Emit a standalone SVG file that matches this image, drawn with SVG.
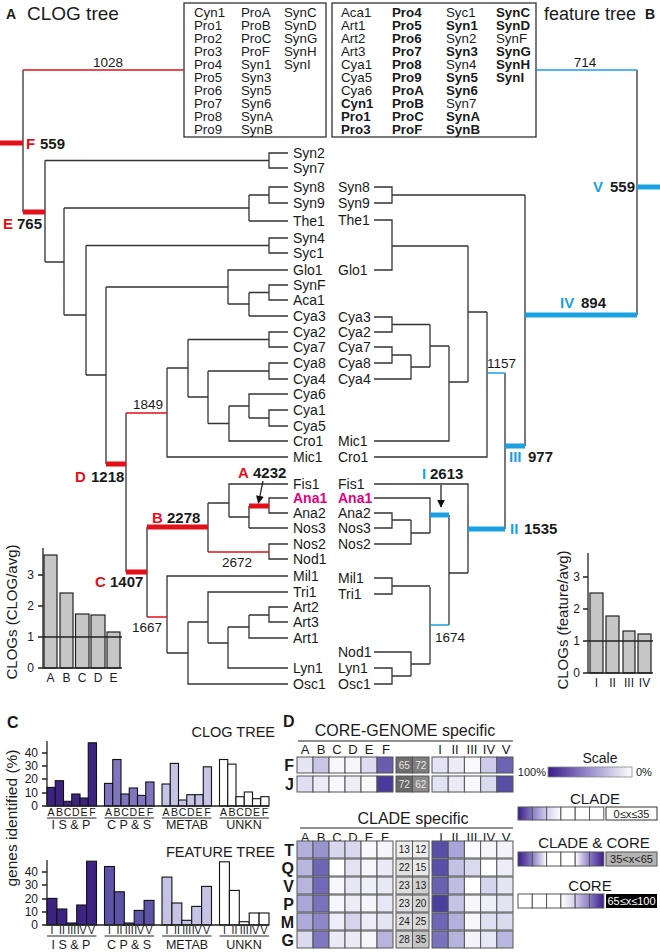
<svg xmlns="http://www.w3.org/2000/svg" width="660" height="952" viewBox="0 0 660 952">
<style>
text{font-family:"Liberation Sans",Arial,Helvetica,sans-serif;fill:#1a1a1a}
.lf{font-size:14px}
.bx{font-size:13.3px}
.b{font-weight:bold}
.red{fill:#e3101a}
.blu{fill:#1ba1e2}
.pk{fill:#e6007e;font-weight:bold}
.num{font-size:13.5px}
.bn{font-size:15px;font-weight:bold}
.tl{fill:none;stroke:#333;stroke-width:1.3}
.rt{fill:none;stroke:#e3101a;stroke-width:1.6}
.rT{fill:none;stroke:#e3101a;stroke-width:5}
.bt{fill:none;stroke:#1ba1e2;stroke-width:1.6}
.bT{fill:none;stroke:#1ba1e2;stroke-width:5}
.ax{fill:none;stroke:#222;stroke-width:1.3}
.gb{fill:#c6c6c6;stroke:#222;stroke-width:1.2}
.tk{font-size:12px;text-anchor:end}
.bl{font-size:12px;text-anchor:middle}
.c1{fill:#3d2483;stroke:#111;stroke-width:1.1}
.c2{fill:#7f76bf;stroke:#111;stroke-width:1.1}
.c2b{fill:#5d53a8;stroke:#111;stroke-width:1.1}
.c3{fill:#c6c4e6;stroke:#111;stroke-width:1.1}
.c4{fill:#ffffff;stroke:#111;stroke-width:1.1}
.sl{font-size:10.5px;text-anchor:middle}
.gl{font-size:12.5px;text-anchor:middle}
.ul{stroke:#222;stroke-width:1}
.cell{stroke:#555;stroke-width:1}
.hd{font-size:13px;text-anchor:middle}
.rl{font-size:16px;font-weight:bold;text-anchor:end}
.mn{font-size:10px;text-anchor:middle}
.ttl{font-size:16px;text-anchor:middle}
.lg{font-size:15px;text-anchor:middle}
.bxl{font-size:11px;text-anchor:middle}
</style>
<defs>
<marker id="ah" viewBox="0 0 10 10" refX="9" refY="5" markerWidth="8" markerHeight="8" markerUnits="userSpaceOnUse" orient="auto">
<path d="M0,0L10,5L0,10z" fill="#111"/>
</marker>
<linearGradient id="gs" x1="0" y1="0" x2="1" y2="0"><stop offset="0" stop-color="#3b1d8a"/><stop offset="0.5" stop-color="#9a8fcd"/><stop offset="1" stop-color="#ffffff"/></linearGradient>
<linearGradient id="g1" x1="0" y1="0" x2="1" y2="0"><stop offset="0" stop-color="#3b1d8a"/><stop offset="1" stop-color="#8a7cc4"/></linearGradient>
<linearGradient id="g2" x1="0" y1="0" x2="1" y2="0"><stop offset="0" stop-color="#8a7cc4"/><stop offset="1" stop-color="#d4cfea"/></linearGradient>
<linearGradient id="g3" x1="0" y1="0" x2="1" y2="0"><stop offset="0" stop-color="#d4cfea"/><stop offset="1" stop-color="#ffffff"/></linearGradient>
<linearGradient id="g23" x1="0" y1="0" x2="1" y2="0"><stop offset="0" stop-color="#8a7cc4"/><stop offset="1" stop-color="#ffffff"/></linearGradient>
<linearGradient id="g1r" x1="1" y1="0" x2="0" y2="0"><stop offset="0" stop-color="#3b1d8a"/><stop offset="1" stop-color="#8a7cc4"/></linearGradient>
<linearGradient id="g2r" x1="1" y1="0" x2="0" y2="0"><stop offset="0" stop-color="#8a7cc4"/><stop offset="1" stop-color="#d4cfea"/></linearGradient>
<linearGradient id="g3r" x1="1" y1="0" x2="0" y2="0"><stop offset="0" stop-color="#d4cfea"/><stop offset="1" stop-color="#ffffff"/></linearGradient>
<linearGradient id="g23r" x1="1" y1="0" x2="0" y2="0"><stop offset="0" stop-color="#8a7cc4"/><stop offset="1" stop-color="#ffffff"/></linearGradient>
</defs>
<rect width="660" height="952" fill="#ffffff"/>

<!-- ===== Panel A: CLOG tree ===== -->
<g id="titleA">
<text x="6" y="19" font-size="14" class="b">A</text>
<text x="27" y="20" font-size="19">CLOG tree</text>
</g>
<g id="boxA">
<rect x="184" y="3" width="142" height="134" fill="#fff" stroke="#333" stroke-width="1.3"/>
<g class="bx">
<text x="194" y="17">Cyn1</text><text x="194" y="30">Pro1</text><text x="194" y="43">Pro2</text><text x="194" y="56">Pro3</text><text x="194" y="69">Pro4</text><text x="194" y="82">Pro5</text><text x="194" y="95">Pro6</text><text x="194" y="108">Pro7</text><text x="194" y="121">Pro8</text><text x="194" y="134">Pro9</text>
<text x="241" y="17">ProA</text><text x="241" y="30">ProB</text><text x="241" y="43">ProC</text><text x="241" y="56">ProF</text><text x="241" y="69">Syn1</text><text x="241" y="82">Syn3</text><text x="241" y="95">Syn5</text><text x="241" y="108">Syn6</text><text x="241" y="121">SynA</text><text x="241" y="134">SynB</text>
<text x="284" y="17">SynC</text><text x="284" y="30">SynD</text><text x="284" y="43">SynG</text><text x="284" y="56">SynH</text><text x="284" y="69">SynI</text>
</g>
</g>

<g id="connectors-clog">
<path class="tl" d="M288,153H269V168H288M269,160.5H45M288,187H269V203H288M269,195H249M288,221H249M249,195V221M249,208H64M288,238H269V253H288M269,245.5H86M288,285H269V300H288M269,292.5H249M288,316H249M249,292.5V316M249,304H228M288,270H228V304M228,287H106M288,332H269V347H288M269,339.5H188M288,363H269V379H288M269,371H208M288,410H269V426H288M269,418H249M288,394H249V418M249,406H229M288,441H229V406M229,423.5H208M208,371V423.5M208,397H188M188,339.5V397M188,368H167M288,457H167V368M126,413V572M106,287V464M106,375H86M86,245.5V375M86,315H64M64,208V315M64,262H45M45,160.5V262M23,70V212M147,527V617M208,503V552M208,503H229M288,484H229V517M229,517H249M249,506V528M288,528H249M288,498H269V513H288M288,544H269V559H288M288,576H167V653M167,653H188M188,622V684H288M188,622H208M288,592H208V643M208,643H228M228,627V668H288M228,627H249M249,615V638H288M249,615H269M288,607H269V622H288"/>
<path class="rt" d="M23,70H184M126,413H167M208,552H269M147,617H167"/>
<path class="rT" d="M0,143H23M23,212H45M106,464H126M126,572H147M147,527H208M249,506H269"/>
<path d="M263,481L258.5,503" stroke="#111" stroke-width="1.2" marker-end="url(#ah)"/>
</g>

<g id="clog-labels">
<text class="num" x="108" y="67" text-anchor="middle">1028</text>
<text class="num" x="148" y="409" text-anchor="middle">1849</text>
<text class="num" x="237" y="567" text-anchor="middle">2672</text>
<text class="num" x="147" y="632" text-anchor="middle">1667</text>
<text class="bn red" x="26" y="149">F</text><text class="bn" x="40" y="149">559</text>
<text class="bn red" x="3" y="229">E</text><text class="bn" x="17" y="229">765</text>
<text class="bn red" x="75" y="482">D</text><text class="bn" x="91" y="482">1218</text>
<text class="bn red" x="95" y="587">C</text><text class="bn" x="110" y="587">1407</text>
<text class="bn red" x="152" y="523">B</text><text class="bn" x="167" y="523">2278</text>
<text class="bn red" x="238" y="478">A</text><text class="bn" x="253" y="478">4232</text>
</g>

<g id="clog-leaves" class="lf">
<text x="293" y="158">Syn2</text><text x="293" y="173">Syn7</text><text x="293" y="192">Syn8</text><text x="293" y="208">Syn9</text><text x="293" y="226">The1</text><text x="293" y="243">Syn4</text><text x="293" y="258">Syc1</text><text x="293" y="275">Glo1</text><text x="293" y="290">SynF</text><text x="293" y="305">Aca1</text><text x="293" y="321">Cya3</text><text x="293" y="337">Cya2</text><text x="293" y="352">Cya7</text><text x="293" y="368">Cya8</text><text x="293" y="384">Cya4</text><text x="293" y="399">Cya6</text><text x="293" y="415">Cya1</text><text x="293" y="431">Cya5</text><text x="293" y="446">Cro1</text><text x="293" y="462">Mic1</text><text x="293" y="489">Fis1</text><text x="293" y="503" class="pk">Ana1</text><text x="293" y="518">Ana2</text><text x="293" y="533">Nos3</text><text x="293" y="549">Nos2</text><text x="293" y="564">Nod1</text><text x="293" y="581">Mil1</text><text x="293" y="597">Tri1</text><text x="293" y="612">Art2</text><text x="293" y="627">Art3</text><text x="293" y="643">Art1</text><text x="293" y="673">Lyn1</text><text x="293" y="689">Osc1</text>
</g>

<g id="chartA">
<rect class="gb" x="44" y="555" width="13" height="113"/>
<rect class="gb" x="60" y="593" width="13" height="75"/>
<rect class="gb" x="75.5" y="614" width="13.5" height="54"/>
<rect class="gb" x="91" y="615" width="14" height="53"/>
<rect class="gb" x="107" y="632" width="13" height="36"/>
<path class="ax" d="M43,548V668H122M38,575H43M38,606H43M38,637H122M38,668H43"/>
<text class="tk" x="34" y="579">3</text><text class="tk" x="34" y="610">2</text><text class="tk" x="34" y="641">1</text><text class="tk" x="34" y="672">0</text>
<text class="bl" x="50.5" y="682">A</text><text class="bl" x="66.5" y="682">B</text><text class="bl" x="82" y="682">C</text><text class="bl" x="98" y="682">D</text><text class="bl" x="113.5" y="682">E</text>
<text transform="translate(17,612) rotate(-90)" text-anchor="middle" font-size="15">CLOGs (CLOG/avg)</text>
</g>

<!-- ===== Panel B: feature tree ===== -->
<g id="titleB">
<text x="544" y="20" font-size="18">feature tree</text>
<text x="645" y="19" font-size="14" class="b">B</text>
</g>
<g id="boxB">
<rect x="332" y="3" width="204" height="134" fill="#fff" stroke="#333" stroke-width="1.3"/>
<g class="bx">
<text x="341" y="17">Aca1</text><text x="341" y="30">Art1</text><text x="341" y="43">Art2</text><text x="341" y="56">Art3</text><text x="341" y="69">Cya1</text><text x="341" y="82">Cya5</text><text x="341" y="95">Cya6</text><text x="341" y="108" class="b">Cyn1</text><text x="341" y="121" class="b">Pro1</text><text x="341" y="134" class="b">Pro3</text>
<text x="392" y="17" class="b">Pro4</text><text x="392" y="30" class="b">Pro5</text><text x="392" y="43" class="b">Pro6</text><text x="392" y="56" class="b">Pro7</text><text x="392" y="69" class="b">Pro8</text><text x="392" y="82" class="b">Pro9</text><text x="392" y="95" class="b">ProA</text><text x="392" y="108" class="b">ProB</text><text x="392" y="121" class="b">ProC</text><text x="392" y="134" class="b">ProF</text>
<text x="446" y="17">Syc1</text><text x="446" y="30" class="b">Syn1</text><text x="446" y="43">Syn2</text><text x="446" y="56" class="b">Syn3</text><text x="446" y="69">Syn4</text><text x="446" y="82" class="b">Syn5</text><text x="446" y="95" class="b">Syn6</text><text x="446" y="108">Syn7</text><text x="446" y="121" class="b">SynA</text><text x="446" y="134" class="b">SynB</text>
<text x="496" y="17" class="b">SynC</text><text x="496" y="30" class="b">SynD</text><text x="496" y="43">SynF</text><text x="496" y="56" class="b">SynG</text><text x="496" y="69" class="b">SynH</text><text x="496" y="82" class="b">SynI</text>
</g>
</g>

<g id="connectors-feature">
<path class="tl" d="M374,187H392V203H374M392,195H525M374,220H392V270H374M392,246H468M374,317H392V332H374M392,324.5H430M374,347H392V363H374M392,355H411M374,379H411V355M411,367H430M430,324.5V367M430,346H449M374,441H449V346M449,382H468M468,246V382M468,312H487M374,457H487V312M505,373V529M525,195V446M637,70V315M374,484H468V573M449,573H468M449,515V625M374,498H430V533M411,533H430M374,544H411V520M392,520H411M374,513H392V528H374M430,587V664M374,578H392V594H374M392,586H430M411,664H430M374,652H411V676M392,676H411M374,668H392V684H374"/>
<path class="bt" d="M536,70H637M487,373H505M430,625H449"/>
<path class="bT" d="M637,187H660M525,315H637M505,446H525M468,529H505M430,515H449"/>
<path d="M441,485V507" stroke="#111" stroke-width="1.2" marker-end="url(#ah)"/>
</g>

<g id="feature-labels">
<text class="num" x="585" y="67" text-anchor="middle">714</text>
<text class="num" x="487" y="368">1157</text>
<text class="num" x="435" y="642">1674</text>
<text class="bn blu" x="593" y="192">V</text><text class="bn" x="610" y="192">559</text>
<text class="bn blu" x="560" y="308">IV</text><text class="bn" x="581" y="308">894</text>
<text class="bn blu" x="509" y="462">III</text><text class="bn" x="528" y="462">977</text>
<text class="bn blu" x="510" y="534">II</text><text class="bn" x="524" y="534">1535</text>
<text class="bn blu" x="422" y="479">I</text><text class="bn" x="430" y="479">2613</text>
</g>

<g id="feature-leaves" class="lf">
<text x="338" y="192">Syn8</text><text x="338" y="208">Syn9</text><text x="338" y="225">The1</text><text x="338" y="275">Glo1</text><text x="338" y="322">Cya3</text><text x="338" y="337">Cya2</text><text x="338" y="352">Cya7</text><text x="338" y="368">Cya8</text><text x="338" y="384">Cya4</text><text x="338" y="446">Mic1</text><text x="338" y="462">Cro1</text><text x="338" y="489">Fis1</text><text x="338" y="503" class="pk">Ana1</text><text x="338" y="518">Ana2</text><text x="338" y="533">Nos3</text><text x="338" y="549">Nos2</text><text x="338" y="583">Mil1</text><text x="338" y="599">Tri1</text><text x="338" y="657">Nod1</text><text x="338" y="673">Lyn1</text><text x="338" y="689">Osc1</text>
</g>

<g id="chartB">
<rect class="gb" x="590" y="593" width="13" height="80"/>
<rect class="gb" x="606" y="616" width="13" height="57"/>
<rect class="gb" x="623" y="631" width="12" height="42"/>
<rect class="gb" x="638" y="634" width="13" height="39"/>
<path class="ax" d="M588,553V673H653M583,577H588M583,609H588M583,641H653M583,673H588"/>
<text class="tk" x="580" y="581">3</text><text class="tk" x="580" y="613">2</text><text class="tk" x="580" y="645">1</text><text class="tk" x="580" y="677">0</text>
<text class="bl" x="596.5" y="687">I</text><text class="bl" x="612.5" y="687">II</text><text class="bl" x="629" y="687">III</text><text class="bl" x="644.5" y="687">IV</text>
<text transform="translate(568,620) rotate(-90)" text-anchor="middle" font-size="15">CLOGs (feature/avg)</text>
</g>

<!-- ===== Panel C ===== -->
<g id="panelC">
<text x="7" y="728" font-size="16" class="b">C</text>
<text x="275" y="737" font-size="14.5" text-anchor="end">CLOG TREE</text>
<text x="275" y="857" font-size="14.5" text-anchor="end">FEATURE TREE</text>
<text transform="translate(17,818) rotate(-90)" text-anchor="middle" font-size="15.5">genes identified (%)</text>
<g id="chartC-top">
<rect class="c1" x="47" y="787.4" width="8.25" height="18.6"/><rect class="c1" x="55.25" y="780.7" width="8.25" height="25.3"/><rect class="c1" x="63.5" y="801.3" width="8.25" height="4.7"/><rect class="c1" x="71.75" y="794" width="8.25" height="12"/><rect class="c1" x="80" y="798" width="8.25" height="8"/><rect class="c1" x="88.25" y="742.8" width="8.25" height="63.2"/>
<rect class="c2" x="104.5" y="783.4" width="8.25" height="22.6"/><rect class="c2" x="112.75" y="759.5" width="8.25" height="46.5"/><rect class="c2" x="121" y="794" width="8.25" height="12"/><rect class="c2" x="129.25" y="788" width="8.25" height="18"/><rect class="c2" x="137.5" y="795.4" width="8.25" height="10.6"/><rect class="c2" x="145.75" y="782" width="8.25" height="24"/>
<rect class="c3" x="162" y="784" width="8.25" height="22"/><rect class="c3" x="170.25" y="763.4" width="8.25" height="42.6"/><rect class="c3" x="178.5" y="800" width="8.25" height="6"/><rect class="c3" x="186.75" y="794.7" width="8.25" height="11.3"/><rect class="c3" x="195" y="794.7" width="8.25" height="11.3"/><rect class="c3" x="203.25" y="766.8" width="8.25" height="39.2"/>
<rect class="c4" x="219.5" y="759.5" width="8.25" height="46.5"/><rect class="c4" x="227.75" y="764.1" width="8.25" height="41.9"/><rect class="c4" x="236" y="796.7" width="8.25" height="9.3"/><rect class="c4" x="244.25" y="792" width="8.25" height="14"/><rect class="c4" x="252.5" y="798.7" width="8.25" height="7.3"/><rect class="c4" x="260.75" y="796.7" width="8.25" height="9.3"/>
<path class="ax" d="M47,741V806H269M42,753H47M42,766H47M42,779H47M42,793H47M42,806H47"/>
<text class="tk" x="38" y="757">40</text><text class="tk" x="38" y="770">30</text><text class="tk" x="38" y="783">20</text><text class="tk" x="38" y="797">10</text><text class="tk" x="38" y="810">0</text>
<g class="sl">
<text x="51.1" y="816">A</text><text x="59.4" y="816">B</text><text x="67.6" y="816">C</text><text x="75.9" y="816">D</text><text x="84.1" y="816">E</text><text x="92.4" y="816">F</text>
<text x="108.6" y="816">A</text><text x="116.9" y="816">B</text><text x="125.1" y="816">C</text><text x="133.4" y="816">D</text><text x="141.6" y="816">E</text><text x="149.9" y="816">F</text>
<text x="166.1" y="816">A</text><text x="174.4" y="816">B</text><text x="182.6" y="816">C</text><text x="190.9" y="816">D</text><text x="199.1" y="816">E</text><text x="207.4" y="816">F</text>
<text x="223.6" y="816">A</text><text x="231.9" y="816">B</text><text x="240.1" y="816">C</text><text x="248.4" y="816">D</text><text x="256.6" y="816">E</text><text x="264.9" y="816">F</text>
</g>
<path class="ul" d="M47,818H96.5M104.5,818H154M162,818H211.5M219.5,818H269"/>
<text class="gl" x="71" y="829">I S &amp; P</text><text class="gl" x="129" y="829">C P &amp; S</text><text class="gl" x="187" y="829">METAB</text><text class="gl" x="244" y="829">UNKN</text>
</g>
<g id="chartC-bottom">
<rect class="c1" x="47" y="898.4" width="9.9" height="26.6"/><rect class="c1" x="56.9" y="909" width="9.9" height="16"/><rect class="c1" x="66.8" y="923" width="9.9" height="2"/><rect class="c1" x="76.7" y="905" width="9.9" height="20"/><rect class="c1" x="86.6" y="861.2" width="9.9" height="63.8"/>
<rect class="c2b" x="104.5" y="866.5" width="9.9" height="58.5"/><rect class="c2b" x="114.4" y="891.8" width="9.9" height="33.2"/><rect class="c2b" x="124.3" y="923" width="9.9" height="2"/><rect class="c2b" x="134.2" y="910.4" width="9.9" height="14.6"/><rect class="c2b" x="144.1" y="900.4" width="9.9" height="24.6"/>
<rect class="c3" x="162" y="877.1" width="9.9" height="47.9"/><rect class="c3" x="171.9" y="903" width="9.9" height="22"/><rect class="c3" x="181.8" y="920.3" width="9.9" height="4.7"/><rect class="c3" x="191.7" y="906.4" width="9.9" height="18.6"/><rect class="c3" x="201.6" y="886.4" width="9.9" height="38.6"/>
<rect class="c4" x="219.5" y="861.8" width="9.9" height="63.2"/><rect class="c4" x="229.4" y="890.4" width="9.9" height="34.6"/><rect class="c4" x="239.3" y="921.7" width="9.9" height="3.3"/><rect class="c4" x="249.2" y="913" width="9.9" height="12"/><rect class="c4" x="259.1" y="913" width="9.9" height="12"/>
<path class="ax" d="M47,860V925H269M42,872H47M42,885H47M42,899H47M42,912H47M42,925H47"/>
<text class="tk" x="38" y="876">40</text><text class="tk" x="38" y="889">30</text><text class="tk" x="38" y="903">20</text><text class="tk" x="38" y="916">10</text><text class="tk" x="38" y="929">0</text>
<g class="sl">
<text x="52" y="934">I</text><text x="61.9" y="934">II</text><text x="71.7" y="934">III</text><text x="81.6" y="934">IV</text><text x="91.5" y="934">V</text>
<text x="109.5" y="934">I</text><text x="119.4" y="934">II</text><text x="129.2" y="934">III</text><text x="139.1" y="934">IV</text><text x="149" y="934">V</text>
<text x="167" y="934">I</text><text x="176.9" y="934">II</text><text x="186.7" y="934">III</text><text x="196.6" y="934">IV</text><text x="206.5" y="934">V</text>
<text x="224.5" y="934">I</text><text x="234.4" y="934">II</text><text x="244.2" y="934">III</text><text x="254.1" y="934">IV</text><text x="264" y="934">V</text>
</g>
<path class="ul" d="M47,936H96.5M104.5,936H154M162,936H211.5M219.5,936H269"/>
<text class="gl" x="71" y="949">I S &amp; P</text><text class="gl" x="129" y="949">C P &amp; S</text><text class="gl" x="187" y="949">METAB</text><text class="gl" x="244" y="949">UNKN</text>
</g>
</g>

<!-- ===== Panel D ===== -->
<g id="panelD">
<text x="283" y="727" font-size="16" class="b">D</text>
<text class="ttl" x="405" y="736">CORE-GENOME specific</text>
<path class="ul" d="M298,741H513"/>
<g class="hd">
<text x="305" y="754">A</text><text x="321" y="754">B</text><text x="337" y="754">C</text><text x="353" y="754">D</text><text x="369" y="754">E</text><text x="386" y="754">F</text>
<text x="440" y="754">I</text><text x="455" y="754">II</text><text x="472" y="754">III</text><text x="489" y="754">IV</text><text x="506" y="754">V</text>
</g>
<text class="rl" x="294" y="771">F</text><text class="rl" x="294" y="790">J</text>
<g id="core-rows" class="cell">
<rect x="297" y="757" width="16" height="16" fill="#e6e5f4"/><rect x="313" y="757" width="16" height="16" fill="#c8c5e6"/><rect x="329" y="757" width="16" height="16" fill="#f8f8fc"/><rect x="345" y="757" width="16" height="16" fill="#f6f6fb"/><rect x="361" y="757" width="16" height="16" fill="#dedcf0"/><rect x="377" y="757" width="16" height="16" fill="#6a5db0"/>
<rect x="396" y="757" width="16.5" height="16" fill="#6e6e6e"/><rect x="412.5" y="757" width="16.5" height="16" fill="#7e7e7e"/>
<rect x="432" y="757" width="16.2" height="16" fill="#e4e3f3"/><rect x="448.2" y="757" width="16.2" height="16" fill="#ecebf7"/><rect x="464.4" y="757" width="16.2" height="16" fill="#fafafd"/><rect x="480.6" y="757" width="16.2" height="16" fill="#cdcbe9"/><rect x="496.8" y="757" width="16.2" height="16" fill="#6e63b3"/>
<rect x="297" y="776" width="16" height="16" fill="#e0dff2"/><rect x="313" y="776" width="16" height="16" fill="#ebeaf6"/><rect x="329" y="776" width="16" height="16" fill="#f8f8fc"/><rect x="345" y="776" width="16" height="16" fill="#eeedf7"/><rect x="361" y="776" width="16" height="16" fill="#f9f9fc"/><rect x="377" y="776" width="16" height="16" fill="#4b3a9c"/>
<rect x="396" y="776" width="16.5" height="16" fill="#686868"/><rect x="412.5" y="776" width="16.5" height="16" fill="#8a8a8a"/>
<rect x="432" y="776" width="16.2" height="16" fill="#e3e2f3"/><rect x="448.2" y="776" width="16.2" height="16" fill="#ebeaf6"/><rect x="464.4" y="776" width="16.2" height="16" fill="#f9f9fc"/><rect x="480.6" y="776" width="16.2" height="16" fill="#dcdaee"/><rect x="496.8" y="776" width="16.2" height="16" fill="#5a4da6"/>
</g>
<g class="mn">
<text x="404.2" y="768.5" style="fill:#e6e6e6">65</text><text x="420.7" y="768.5" style="fill:#e6e6e6">72</text>
<text x="404.2" y="787.5" style="fill:#e6e6e6">72</text><text x="420.7" y="787.5" style="fill:#e6e6e6">62</text>
</g>

<text class="ttl" x="413" y="824">CLADE specific</text>
<path class="ul" d="M300,828H513"/>
<g class="hd">
<text x="305" y="842">A</text><text x="321" y="842">B</text><text x="337" y="842">C</text><text x="353" y="842">D</text><text x="369" y="842">E</text><text x="385" y="842">F</text>
<text x="441" y="842">I</text><text x="455" y="842">II</text><text x="472" y="842">III</text><text x="489" y="842">IV</text><text x="506" y="842">V</text>
</g>
<g class="rl">
<text x="294" y="856">T</text><text x="294" y="874">Q</text><text x="294" y="892">V</text><text x="294" y="910">P</text><text x="294" y="928">M</text><text x="294" y="946">G</text>
</g>
<g id="clade-rows" class="cell">
<rect x="297" y="841" width="16" height="17" fill="#b3b0dc"/><rect x="313" y="841" width="16" height="17" fill="#9994cf"/><rect x="329" y="841" width="16" height="17" fill="#d9d7ee"/><rect x="345" y="841" width="16" height="17" fill="#dad8ef"/><rect x="361" y="841" width="16" height="17" fill="#f8f8fc"/><rect x="377" y="841" width="16" height="17" fill="#f4f4fa"/>
<rect x="396" y="841" width="16.5" height="17" fill="#ececec"/><rect x="412.5" y="841" width="16.5" height="17" fill="#ececec"/>
<rect x="432" y="841" width="16.2" height="17" fill="#5a4ea8"/><rect x="448.2" y="841" width="16.2" height="17" fill="#a9a5d8"/><rect x="464.4" y="841" width="16.2" height="17" fill="#fbfbfd"/><rect x="480.6" y="841" width="16.2" height="17" fill="#f5f5fa"/><rect x="496.8" y="841" width="16.2" height="17" fill="#f3f3f9"/>
<rect x="297" y="859" width="16" height="17" fill="#b9b6df"/><rect x="313" y="859" width="16" height="17" fill="#6f66b6"/><rect x="329" y="859" width="16" height="17" fill="#ffffff"/><rect x="345" y="859" width="16" height="17" fill="#e3e2f3"/><rect x="361" y="859" width="16" height="17" fill="#f5f5fa"/><rect x="377" y="859" width="16" height="17" fill="#ebeaf6"/>
<rect x="396" y="859" width="16.5" height="17" fill="#e0e0e0"/><rect x="412.5" y="859" width="16.5" height="17" fill="#e8e8e8"/>
<rect x="432" y="859" width="16.2" height="17" fill="#5a4ea8"/><rect x="448.2" y="859" width="16.2" height="17" fill="#c4c1e4"/><rect x="464.4" y="859" width="16.2" height="17" fill="#dbd9ef"/><rect x="480.6" y="859" width="16.2" height="17" fill="#ffffff"/><rect x="496.8" y="859" width="16.2" height="17" fill="#eeedf7"/>
<rect x="297" y="877" width="16" height="17" fill="#b7b4de"/><rect x="313" y="877" width="16" height="17" fill="#726ab8"/><rect x="329" y="877" width="16" height="17" fill="#f8f8fc"/><rect x="345" y="877" width="16" height="17" fill="#e7e6f4"/><rect x="361" y="877" width="16" height="17" fill="#efeff8"/><rect x="377" y="877" width="16" height="17" fill="#e9e8f5"/>
<rect x="396" y="877" width="16.5" height="17" fill="#dedede"/><rect x="412.5" y="877" width="16.5" height="17" fill="#cfcfcf"/>
<rect x="432" y="877" width="16.2" height="17" fill="#6b61b3"/><rect x="448.2" y="877" width="16.2" height="17" fill="#c0bde2"/><rect x="464.4" y="877" width="16.2" height="17" fill="#ffffff"/><rect x="480.6" y="877" width="16.2" height="17" fill="#d7d5ed"/><rect x="496.8" y="877" width="16.2" height="17" fill="#e6e5f4"/>
<rect x="297" y="895" width="16" height="17" fill="#a9a6d8"/><rect x="313" y="895" width="16" height="17" fill="#7a72bc"/><rect x="329" y="895" width="16" height="17" fill="#f6f6fb"/><rect x="345" y="895" width="16" height="17" fill="#ececf7"/><rect x="361" y="895" width="16" height="17" fill="#f4f4fa"/><rect x="377" y="895" width="16" height="17" fill="#e8e7f5"/>
<rect x="396" y="895" width="16.5" height="17" fill="#e0e0e0"/><rect x="412.5" y="895" width="16.5" height="17" fill="#d5d5d5"/>
<rect x="432" y="895" width="16.2" height="17" fill="#4c3f9f"/><rect x="448.2" y="895" width="16.2" height="17" fill="#c6c4e5"/><rect x="464.4" y="895" width="16.2" height="17" fill="#f6f6fb"/><rect x="480.6" y="895" width="16.2" height="17" fill="#efeff8"/><rect x="496.8" y="895" width="16.2" height="17" fill="#e4e3f3"/>
<rect x="297" y="913" width="16" height="17" fill="#aeabda"/><rect x="313" y="913" width="16" height="17" fill="#8e88c8"/><rect x="329" y="913" width="16" height="17" fill="#eeedf7"/><rect x="345" y="913" width="16" height="17" fill="#d6d4ed"/><rect x="361" y="913" width="16" height="17" fill="#eeedf7"/><rect x="377" y="913" width="16" height="17" fill="#e5e4f3"/>
<rect x="396" y="913" width="16.5" height="17" fill="#dcdcdc"/><rect x="412.5" y="913" width="16.5" height="17" fill="#d8d8d8"/>
<rect x="432" y="913" width="16.2" height="17" fill="#6f66b6"/><rect x="448.2" y="913" width="16.2" height="17" fill="#b3b0dc"/><rect x="464.4" y="913" width="16.2" height="17" fill="#f6f6fb"/><rect x="480.6" y="913" width="16.2" height="17" fill="#e0dff2"/><rect x="496.8" y="913" width="16.2" height="17" fill="#dcdaee"/>
<rect x="297" y="931" width="16" height="17" fill="#dcdaef"/><rect x="313" y="931" width="16" height="17" fill="#7f77bf"/><rect x="329" y="931" width="16" height="17" fill="#ebeaf6"/><rect x="345" y="931" width="16" height="17" fill="#eaeaf6"/><rect x="361" y="931" width="16" height="17" fill="#f5f5fa"/><rect x="377" y="931" width="16" height="17" fill="#b7b4de"/>
<rect x="396" y="931" width="16.5" height="17" fill="#d4d4d4"/><rect x="412.5" y="931" width="16.5" height="17" fill="#c4c4c4"/>
<rect x="432" y="931" width="16.2" height="17" fill="#7a72bc"/><rect x="448.2" y="931" width="16.2" height="17" fill="#b6b3dd"/><rect x="464.4" y="931" width="16.2" height="17" fill="#f3f3f9"/><rect x="480.6" y="931" width="16.2" height="17" fill="#e8e7f5"/><rect x="496.8" y="931" width="16.2" height="17" fill="#b9b6df"/>
</g>
<g class="mn">
<text x="404.2" y="853">13</text><text x="420.7" y="853">12</text>
<text x="404.2" y="871">22</text><text x="420.7" y="871">15</text>
<text x="404.2" y="889">23</text><text x="420.7" y="889">13</text>
<text x="404.2" y="907">23</text><text x="420.7" y="907">20</text>
<text x="404.2" y="925">24</text><text x="420.7" y="925">25</text>
<text x="404.2" y="943">28</text><text x="420.7" y="943">35</text>
</g>
</g>

<g id="legend">
<text x="600" y="763" font-size="14" text-anchor="middle">Scale</text>
<rect x="548" y="767" width="84" height="10" fill="url(#gs)" stroke="#888" stroke-width="0.8"/>
<text x="546" y="776" font-size="11" text-anchor="end">100%</text>
<text x="636" y="776" font-size="11">0%</text>
<text class="lg" x="595" y="804">CLADE</text>
<g class="cell">
<rect x="518" y="807" width="14.3" height="13" fill="url(#g1)"/><rect x="532.3" y="807" width="14.3" height="13" fill="url(#g2)"/><rect x="546.6" y="807" width="14.3" height="13" fill="url(#g3)"/><rect x="560.9" y="807" width="14.3" height="13" fill="#fff"/><rect x="575.2" y="807" width="14.3" height="13" fill="#fff"/><rect x="589.5" y="807" width="14.3" height="13" fill="#fff"/>
</g>
<rect x="606" y="807" width="51" height="13" fill="#fff" stroke="#333" stroke-width="1"/>
<text class="bxl" x="631.5" y="817.5">0≤x≤35</text>
<text class="lg" x="594" y="848">CLADE &amp; CORE</text>
<g class="cell">
<rect x="518" y="852" width="14.3" height="14" fill="url(#g1)"/><rect x="532.3" y="852" width="14.3" height="14" fill="url(#g23)"/><rect x="546.6" y="852" width="14.3" height="14" fill="#fff"/><rect x="560.9" y="852" width="14.3" height="14" fill="#fff"/><rect x="575.2" y="852" width="14.3" height="14" fill="url(#g23r)"/><rect x="589.5" y="852" width="14.3" height="14" fill="url(#g1r)"/>
</g>
<rect x="606" y="852" width="51" height="14" fill="#b4b4b4" stroke="#555" stroke-width="1"/>
<text class="bxl" x="631.5" y="863">35&lt;x&lt;65</text>
<text class="lg" x="590" y="891">CORE</text>
<g class="cell">
<rect x="518" y="894" width="14.3" height="14" fill="#fff"/><rect x="532.3" y="894" width="14.3" height="14" fill="#fff"/><rect x="546.6" y="894" width="14.3" height="14" fill="#fff"/><rect x="560.9" y="894" width="14.3" height="14" fill="url(#g3r)"/><rect x="575.2" y="894" width="14.3" height="14" fill="url(#g2r)"/><rect x="589.5" y="894" width="14.3" height="14" fill="url(#g1r)"/>
</g>
<rect x="606" y="894" width="51" height="14" fill="#000"/>
<text class="bxl" x="631.5" y="905" style="fill:#fff">65≤x≤100</text>
</g>
</svg>
